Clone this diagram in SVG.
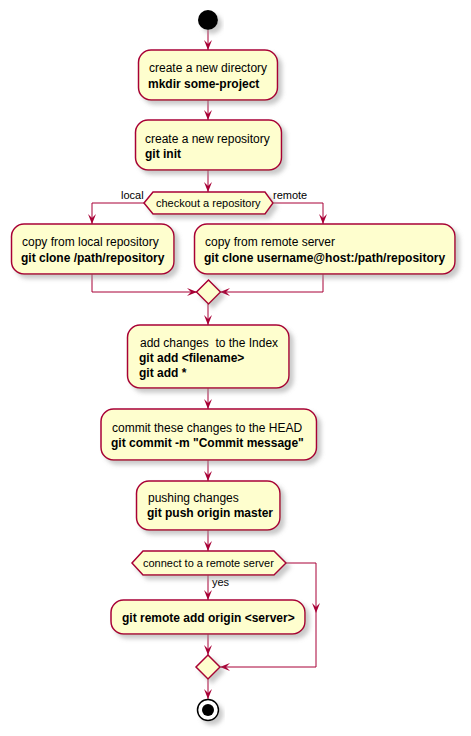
<svg xmlns="http://www.w3.org/2000/svg" width="471" height="736" viewBox="0 0 471 736">
<defs>
<filter id="sh" x="-20%" y="-20%" width="150%" height="160%">
<feGaussianBlur in="SourceAlpha" stdDeviation="2"/>
<feOffset dx="4" dy="4" result="b"/>
<feColorMatrix in="b" type="matrix" values="0 0 0 0 0.3  0 0 0 0 0.3  0 0 0 0 0.3  0 0 0 0.5 0"/>
<feMerge><feMergeNode/><feMergeNode in="SourceGraphic"/></feMerge>
</filter>
<marker id="ah" viewBox="0 0 10 8" refX="10" refY="4" markerWidth="10" markerHeight="8" markerUnits="userSpaceOnUse" orient="auto">
<path d="M0,0 L10,4 L0,8 L4,4 Z" fill="#A80036"/>
</marker>
</defs>
<style>
.box{fill:#FEFECE;stroke:#A80036;stroke-width:1.5;filter:url(#sh)}
.t{font-family:"Liberation Sans",Arial,sans-serif;font-size:12px;fill:#000;white-space:pre}
.b{font-weight:bold}
.s{font-family:"Liberation Sans",Arial,sans-serif;font-size:11px;fill:#000}
.c{fill:none;stroke:#A80036;stroke-width:1}
</style>
<g id="connectors">
<path class="c" d="M208,30 V50" marker-end="url(#ah)"/>
<path class="c" d="M208,100 V120" marker-end="url(#ah)"/>
<path class="c" d="M208,170 V192" marker-end="url(#ah)"/>
<path class="c" d="M144,203 H92 V224" marker-end="url(#ah)"/>
<path class="c" d="M273,203 H323 V224" marker-end="url(#ah)"/>
<path class="c" d="M92,274 V292 H197" marker-end="url(#ah)"/>
<path class="c" d="M323,274 V292 H220" marker-end="url(#ah)"/>
<path class="c" d="M208,304 V325" marker-end="url(#ah)"/>
<path class="c" d="M208,388 V409" marker-end="url(#ah)"/>
<path class="c" d="M208,460 V481" marker-end="url(#ah)"/>
<path class="c" d="M208,530 V551" marker-end="url(#ah)"/>
<path class="c" d="M208,575 V600" marker-end="url(#ah)"/>
<path class="c" d="M286,563 H316 V613" marker-end="url(#ah)"/>
<path class="c" d="M316,613 V667 H220" marker-end="url(#ah)"/>
<path class="c" d="M208,634 V655" marker-end="url(#ah)"/>
<path class="c" d="M208,679 V699" marker-end="url(#ah)"/>
<text class="s" x="121" y="199">local</text>
<text class="s" x="273" y="199">remote</text>
<text class="s" x="212" y="586">yes</text>
</g>
<g id="start"><circle cx="208" cy="20" r="10" fill="#000" filter="url(#sh)"/></g>
<g id="n1">
<rect class="box" x="138.5" y="50" width="139" height="50" rx="12.5"/>
<text class="t" x="149" y="72">create a new directory</text>
<text class="t b" x="148" y="88">mkdir some-project</text>
</g>
<g id="n2">
<rect class="box" x="135.5" y="120" width="146" height="50" rx="12.5"/>
<text class="t" x="145" y="143">create a new repository</text>
<text class="t b" x="145" y="158">git init</text>
</g>
<g id="d1">
<polygon class="box" points="144,203 153,192 265,192 273,203 265,214 153,214"/>
<text class="s" x="156" y="207">checkout a repository</text>
</g>
<g id="n3">
<rect class="box" x="11.5" y="224" width="162.5" height="50" rx="12.5"/>
<text class="t" x="22" y="246">copy from local repository</text>
<text class="t b" x="21" y="262">git clone /path/repository</text>
</g>
<g id="n4">
<rect class="box" x="194.5" y="224" width="260.5" height="50" rx="12.5"/>
<text class="t" x="205" y="246">copy from remote server</text>
<text class="t b" x="204" y="262">git clone username@host:/path/repository</text>
</g>
<g id="m1">
<polygon class="box" points="208.5,280 220.5,292 208.5,304 196.5,292"/>
</g>
<g id="n5">
<rect class="box" x="127.5" y="325" width="161.5" height="63" rx="12.5"/>
<text class="t" x="140" y="347" xml:space="preserve">add changes  to the Index</text>
<text class="t b" x="139" y="362">git add &lt;filename&gt;</text>
<text class="t b" x="139" y="377">git add *</text>
</g>
<g id="n6">
<rect class="box" x="101" y="409" width="215.5" height="51" rx="12.5"/>
<text class="t" x="112" y="432">commit these changes to the HEAD</text>
<text class="t b" x="111" y="447">git commit -m "Commit message"</text>
</g>
<g id="n7">
<rect class="box" x="136.5" y="481" width="143.5" height="49" rx="12.5"/>
<text class="t" x="148" y="502">pushing changes</text>
<text class="t b" x="147" y="517">git push origin master</text>
</g>
<g id="d2">
<polygon class="box" points="132,563 143,551 274,551 286,563 274,575 143,575"/>
<text class="s" x="143" y="567">connect to a remote server</text>
</g>
<g id="n8">
<rect class="box" x="111" y="600" width="194" height="34" rx="12.5"/>
<text class="t b" x="122" y="622">git remote add origin &lt;server&gt;</text>
</g>
<g id="m2">
<polygon class="box" points="208,655 220,667 208,679 196,667"/>
</g>
<g id="end">
<circle cx="208" cy="710" r="10.5" fill="#fff" stroke="#000" stroke-width="1.5" filter="url(#sh)"/>
<circle cx="208" cy="710" r="6" fill="#000"/>
</g>
</svg>
